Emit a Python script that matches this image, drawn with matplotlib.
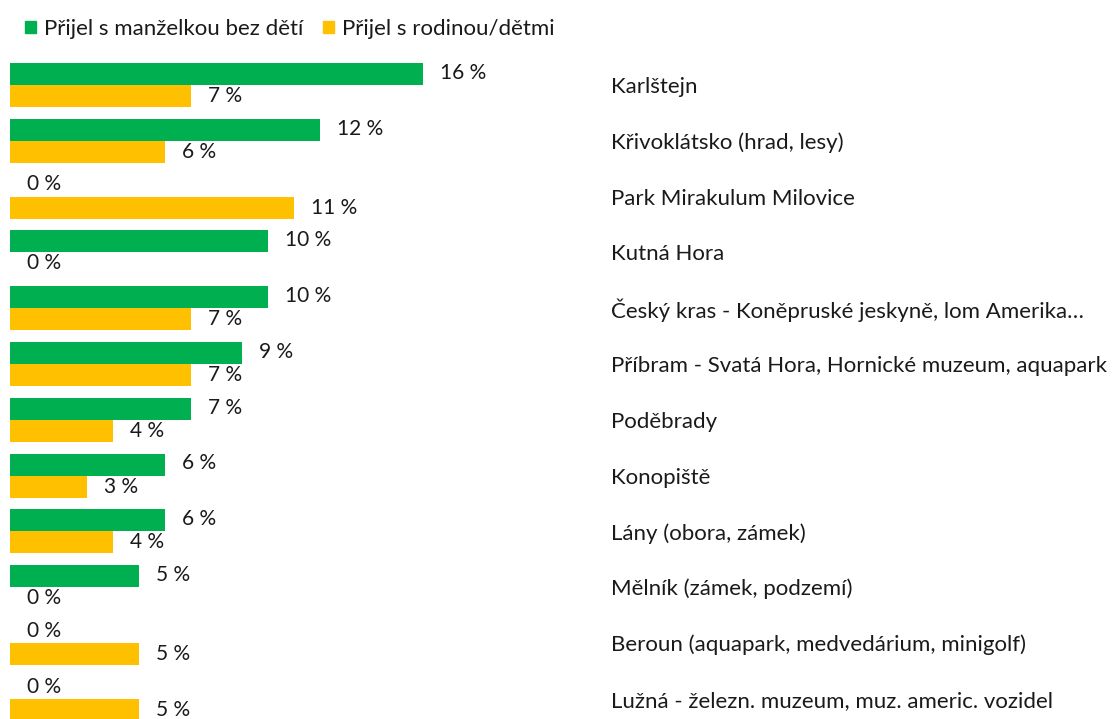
import matplotlib
matplotlib.use("Agg")
import matplotlib.pyplot as plt
from matplotlib.patches import Patch
import numpy as np

categories = ["Karlštejn", "Křivoklátsko (hrad, lesy)", "Park Mirakulum Milovice",
              "Kutná Hora", "Český kras - Koněpruské jeskyně, lom Amerika…",
              "Příbram - Svatá Hora, Hornické muzeum, aquapark", "Poděbrady",
              "Konopiště", "Lány (obora, zámek)", "Mělník (zámek, podzemí)",
              "Beroun (aquapark, medvedárium, minigolf)",
              "Lužná - železn. muzeum, muz. americ. vozidel"]
couple = [16, 12, 0, 10, 10, 9, 7, 6, 6, 5, 0, 0]
family = [7, 6, 11, 0, 7, 7, 4, 3, 4, 0, 5, 5]
series = ["Přijel s manželkou bez dětí", "Přijel s rodinou/dětmi"]

green = "#00B050"
yellow = "#FFC000"
txt = "#1a1a1a"
plt.rcParams['font.family'] = ['Lato', 'DejaVu Sans']
fs = 16
fs_val = 15

W, H = 1119, 719
fig = plt.figure(figsize=(W / 100, H / 100), dpi=100)
pitch = 55.8
top_px = 50
ax = fig.add_axes([10 / W, 0, (611 - 10) / W, (H - top_px) / H])
ax.set_xlim(0, (611 - 10) / 25.8)
ax.set_ylim((H - 85) / pitch, -(85 - top_px) / pitch)

y = np.arange(len(categories))
h = 22 / pitch
ax.barh(y - h / 2, couple, height=h, color=green)
ax.barh(y + h / 2, family, height=h, color=yellow)

off = 17 / 25.8
for i in range(len(categories)):
    ax.text(couple[i] + off, y[i] - h / 2 - 0.02, f"{couple[i]} %", va="center",
            ha="left", fontsize=fs_val, color=txt)
    ax.text(family[i] + off, y[i] + h / 2, f"{family[i]} %", va="center",
            ha="left", fontsize=fs_val, color=txt)

ax.yaxis.tick_right()
ax.set_yticks(y)
ax.set_yticklabels(categories, fontsize=fs, color=txt)
ax.tick_params(axis="y", length=0, pad=0)
ax.set_xticks([])
for s in ax.spines.values():
    s.set_visible(False)

handles = [Patch(color=green), Patch(color=yellow)]
fig.legend(handles, series, loc="upper left", bbox_to_anchor=(5 / W, 1 + 1 / H),
           ncol=2, frameon=False, fontsize=fs, handlelength=0.5, handleheight=0.5,
           handletextpad=0.35, columnspacing=0.9, labelcolor=txt)

fig.savefig("out.png", dpi=100)
